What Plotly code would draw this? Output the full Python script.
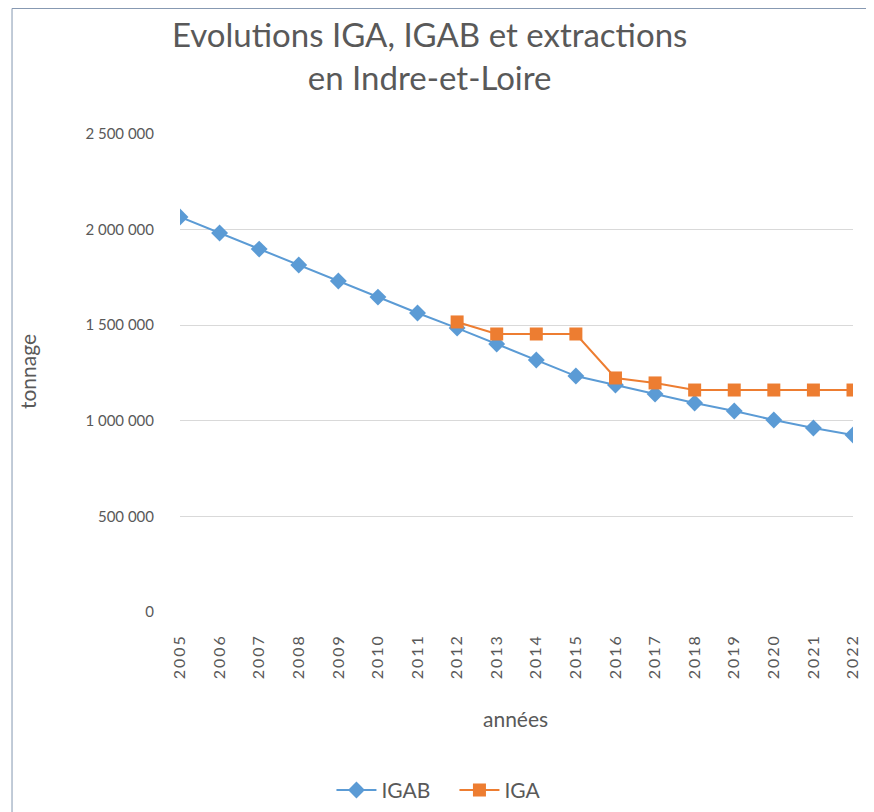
import plotly.graph_objects as go

years = [str(y) for y in range(2005, 2023)]
igab = [2066000, 1982000, 1898000, 1815000, 1731000, 1647000, 1564000, 1485000,
        1402000, 1318000, 1234000, 1187000, 1140000, 1093000, 1051000, 1004000,
        962000, 926000]
iga_years = [str(y) for y in range(2012, 2023)]
iga = [1517000, 1454000, 1454000, 1454000, 1224000, 1198000, 1161000, 1161000,
       1161000, 1161000, 1161000]
ytick_vals = [0, 500000, 1000000, 1500000, 2000000, 2500000]
ytick_text = ["0", "500 000", "1 000 000", "1 500 000", "2 000 000", "2 500 000"]

FONT = "Lato"
GRAY = "#595959"

# Excel-like spaced rotated year labels
year_text = ["\u2009".join(list(y)) for y in years]

fig = go.Figure()
fig.add_trace(go.Scatter(
    x=years, y=igab, name="IGAB", mode="lines+markers",
    line=dict(color="#5B9BD5", width=2),
    marker=dict(symbol="diamond", size=13, color="#5B9BD5"),
))
fig.add_trace(go.Scatter(
    x=iga_years, y=iga, name="IGA", mode="lines+markers",
    line=dict(color="#ED7D31", width=2),
    marker=dict(symbol="square", size=13, color="#ED7D31"),
))

fig.update_layout(
    width=866, height=804, autosize=False,
    margin=dict(l=172, r=21, t=126, b=200),
    paper_bgcolor="white", plot_bgcolor="white",
    font=dict(family=FONT, color=GRAY, size=15),
    showlegend=True,
    legend=dict(orientation="h", xref="container", yref="container",
                x=0.3735, xanchor="left", y=0.027, yanchor="middle",
                font=dict(size=21, color=GRAY), itemwidth=40,
                entrywidth=68, entrywidthmode="pixels"),
    xaxis=dict(
        type="category", categoryorder="array", categoryarray=years,
        range=[0, len(years) - 1], tickangle=-90,
        tickmode="array", tickvals=years, ticktext=year_text,
        showgrid=False, showline=False, zeroline=False, ticks="",
        tickfont=dict(size=16, color=GRAY), ticklabelstandoff=20,
        automargin=False,
    ),
    yaxis=dict(
        range=[0, 2500000], tickvals=ytick_vals, ticktext=ytick_text,
        showgrid=True, gridcolor="#D9D9D9", gridwidth=1, zeroline=False,
        showline=False, ticks="", tickfont=dict(size=15, color=GRAY),
        ticklabelstandoff=25, automargin=False,
    ),
    annotations=[
        dict(text="Evolutions IGA, IGAB et extractions<br>en Indre-et-Loire",
             xref="paper", yref="paper", x=0.37, y=1.165,
             xanchor="center", yanchor="middle", showarrow=False,
             font=dict(family=FONT, size=33, color=GRAY)),
        dict(text="tonnage", xref="paper", yref="paper", x=-0.2274, y=0.504,
             xanchor="center", yanchor="middle", textangle=-90, showarrow=False,
             font=dict(family=FONT, size=21, color=GRAY)),
        dict(text="années", xref="paper", yref="paper", x=0.498, y=-0.2218,
             xanchor="center", yanchor="middle", showarrow=False,
             font=dict(family=FONT, size=21, color=GRAY)),
    ],
    shapes=[dict(type="rect", xref="paper", yref="paper",
                 x0=-0.2496, x1=1.2, y0=-0.5, y1=1.2626,
                 line=dict(color="#8497B0", width=1), fillcolor="rgba(0,0,0,0)",
                 layer="below")],
)

fig.write_html("out.html")
